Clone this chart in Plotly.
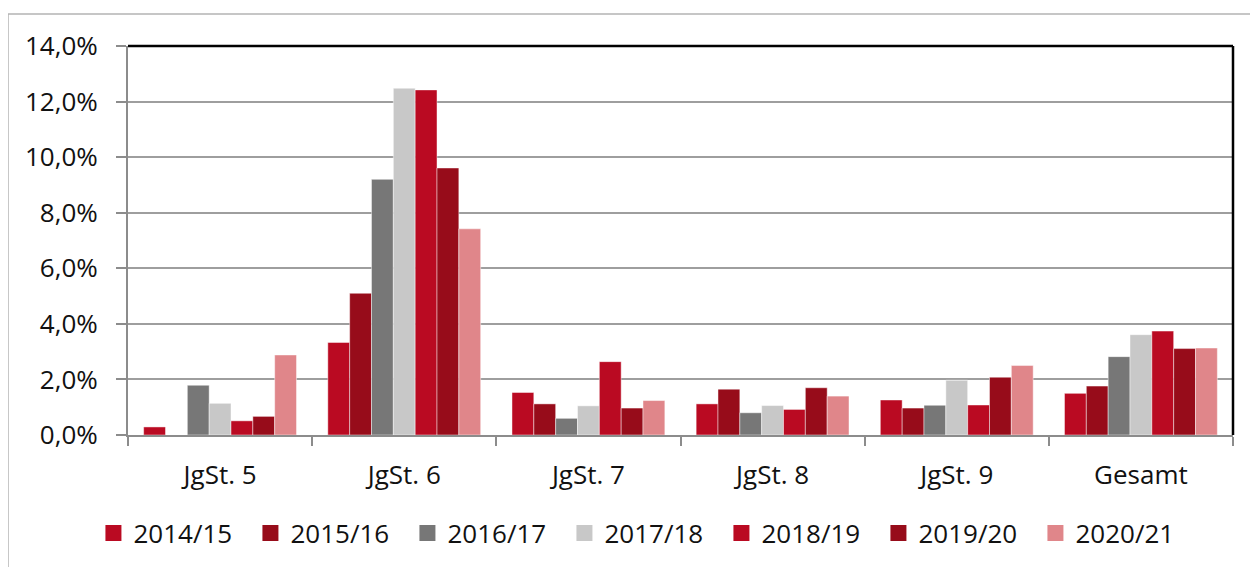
import plotly.graph_objects as go

categories = ["JgSt. 5", "JgSt. 6", "JgSt. 7", "JgSt. 8", "JgSt. 9", "Gesamt"]
series_names = ["2014/15", "2015/16", "2016/17", "2017/18", "2018/19", "2019/20", "2020/21"]

v_2014_15 = [0.29, 3.33, 1.53, 1.12, 1.26, 1.50]
v_2015_16 = [None, 5.10, 1.12, 1.65, 0.97, 1.76]
v_2016_17 = [1.79, 9.20, 0.60, 0.80, 1.07, 2.82]
v_2017_18 = [1.14, 12.48, 1.05, 1.06, 1.97, 3.61]
v_2018_19 = [0.51, 12.42, 2.64, 0.92, 1.08, 3.74]
v_2019_20 = [0.67, 9.61, 0.97, 1.70, 2.08, 3.11]
v_2020_21 = [2.88, 7.42, 1.24, 1.40, 2.50, 3.13]

series_values = [v_2014_15, v_2015_16, v_2016_17, v_2017_18, v_2018_19, v_2019_20, v_2020_21]
colors = ["#BA0A22", "#970C1A", "#777777", "#C8C8C8", "#BA0A22", "#970C1A", "#E0868A"]

y_ticks = [0, 2, 4, 6, 8, 10, 12, 14]
y_tick_labels = ["0,0%", "2,0%", "4,0%", "6,0%", "8,0%", "10,0%", "12,0%", "14,0%"]

FONT = "Open Sans"
FS = 26

fig = go.Figure()
for name, vals, col in zip(series_names, series_values, colors):
    fig.add_trace(go.Bar(
        x=categories, y=vals, name=name,
        marker=dict(color=col, line=dict(color="rgba(255,255,255,0.45)", width=1)),
        showlegend=False,
    ))
for name, col in zip(series_names, colors):
    fig.add_trace(go.Scatter(
        x=[None], y=[None], mode="markers", name=name,
        marker=dict(symbol="square", size=16, color=col),
        showlegend=True,
    ))

fig.update_layout(
    width=1250, height=559,
    margin=dict(l=120, r=25, t=38, b=131),
    paper_bgcolor="white", plot_bgcolor="white",
    barmode="group", bargap=0.17, bargroupgap=0,
    font=dict(family=FONT, size=FS, color="#111111"),
    legend=dict(
        orientation="h", x=0.466, xanchor="center", y=-0.249, yanchor="middle",
        font=dict(family=FONT, size=FS, color="#111111"),
        itemsizing="trace", itemwidth=30, tracegroupgap=0,
        entrywidth=112, entrywidthmode="pixels",
    ),
    xaxis=dict(
        type="category", showgrid=False, showline=True, linecolor="#8c8c8c", linewidth=2,
        ticks="outside", tickson="boundaries", ticklen=9, tickwidth=2, tickcolor="#8c8c8c",
        tickfont=dict(family=FONT, size=FS, color="#111111"),
        ticklabelstandoff=16,
    ),
    yaxis=dict(
        range=[0, 14], tickvals=y_ticks, ticktext=y_tick_labels,
        showgrid=True, gridcolor="#9e9e9e", gridwidth=2,
        showline=True, linecolor="#8c8c8c", linewidth=2,
        ticks="outside", ticklen=10, tickwidth=2, tickcolor="#8c8c8c",
        tickfont=dict(family=FONT, size=FS, color="#111111"),
        ticklabelstandoff=13, zeroline=False,
    ),
    shapes=[
        dict(type="line", xref="paper", yref="paper", x0=0, x1=1, y0=1, y1=1,
             line=dict(color="black", width=2.5)),
        dict(type="line", xref="paper", yref="paper", x0=1, x1=1, y0=0, y1=1,
             line=dict(color="black", width=2.5)),
        dict(type="rect", xref="paper", yref="paper", x0=-0.1086, x1=1.05, y0=-0.4, y1=1.082,
             line=dict(color="#b4b4b4", width=1.5), layer="below"),
    ],
)

fig.write_html("out.html")
